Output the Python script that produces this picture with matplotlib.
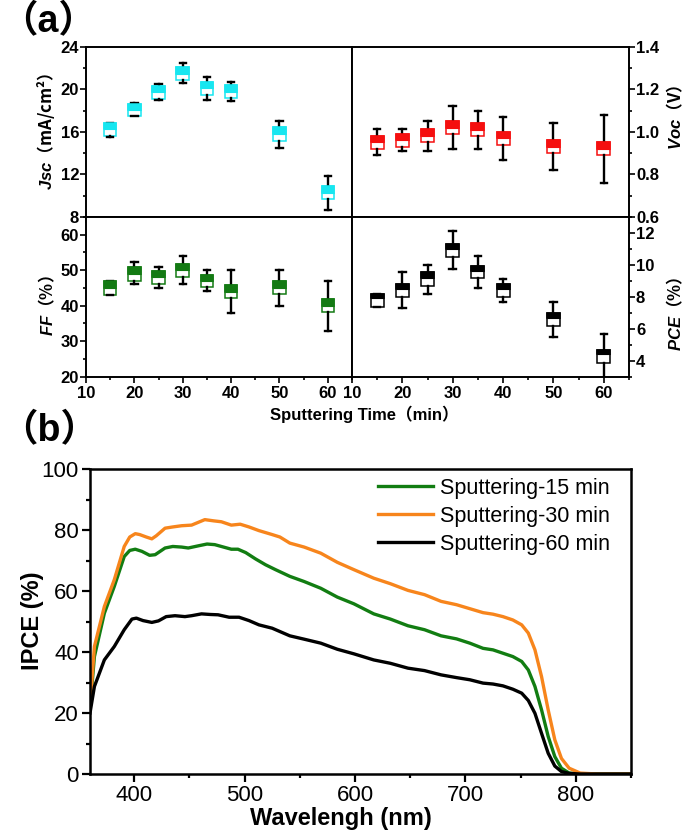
import matplotlib
matplotlib.use("Agg")
import matplotlib.pyplot as plt
from matplotlib.ticker import MultipleLocator
import numpy as np

plt.rcParams['font.family'] = ['Liberation Sans', 'Noto Sans CJK SC', 'DejaVu Sans']
plt.rcParams['mathtext.fontset'] = 'custom'
plt.rcParams['mathtext.it'] = 'Liberation Sans:italic:bold'
plt.rcParams['mathtext.rm'] = 'Liberation Sans:bold'
plt.rcParams['mathtext.bf'] = 'Liberation Sans:bold'

# ---------------- data (a) ----------------
times = [15, 20, 25, 30, 35, 40, 50, 60]

jsc_whislo = [15.55, 17.45, 19.0, 20.6, 19.0, 18.9, 14.5, 8.67]
jsc_q1 = [15.6, 17.5, 19.07, 20.83, 19.47, 19.17, 15.15, 9.66]
jsc_med = [16.25, 18.08, 19.75, 21.44, 20.1, 19.78, 15.83, 10.28]
jsc_q3 = [16.8, 18.65, 20.35, 22.06, 20.7, 20.4, 16.44, 10.89]
jsc_whishi = [16.85, 18.7, 20.45, 22.43, 21.2, 20.7, 17.06, 11.88]

voc_whislo = [0.89, 0.91, 0.91, 0.92, 0.92, 0.87, 0.82, 0.76]
voc_q1 = [0.92, 0.93, 0.95, 0.99, 0.98, 0.94, 0.90, 0.89]
voc_med = [0.953, 0.96, 0.98, 1.02, 1.01, 0.97, 0.93, 0.92]
voc_q3 = [0.98, 0.99, 1.013, 1.05, 1.04, 1.0, 0.96, 0.95]
voc_whishi = [1.013, 1.013, 1.05, 1.12, 1.10, 1.07, 1.04, 1.08]

ff_whislo = [43, 46, 45, 46, 44.1, 38, 40, 32.9]
ff_q1 = [43, 47.1, 46.2, 48.2, 45.2, 42.3, 43.2, 38.2]
ff_med = [45, 49, 48, 50, 47, 44, 45, 40]
ff_q3 = [47, 50.8, 49.9, 51.8, 48.7, 45.8, 46.9, 41.9]
ff_whishi = [47.1, 52.2, 51, 54, 50.1, 50, 50, 47.1]

pce_whislo = [7.36, 7.28, 8.2, 9.73, 8.55, 7.7, 5.47, 2.9]
pce_q1 = [7.36, 8.0, 8.7, 10.5, 9.16, 8.0, 6.2, 3.88]
pce_med = [7.9, 8.5, 9.2, 11.0, 9.6, 8.5, 6.7, 4.4]
pce_q3 = [8.2, 8.8, 9.54, 11.3, 9.93, 8.8, 6.98, 4.7]
pce_whishi = [8.2, 9.54, 10.0, 12.1, 10.55, 9.13, 7.7, 5.68]

# ---------------- data (b) ----------------
wl_15 = [360, 364, 373, 382, 391, 396, 401, 407, 414, 419,
         428, 435, 443, 449, 458, 466, 473, 482, 488, 494,
         501, 510, 519, 528, 541, 554, 569, 584, 599, 617,
         632, 648, 663, 678, 692, 704, 716, 725, 734, 743,
         751, 757, 763, 769, 775, 781, 787, 794, 804, 850]
ipce_15 = [21.5, 38.5, 52.7, 61.5, 71.3, 73.3, 73.7, 73.0, 71.7, 71.9,
           74.1, 74.6, 74.4, 74.1, 74.8, 75.4, 75.2, 74.3, 73.7, 73.7,
           72.6, 70.5, 68.6, 67.0, 64.8, 63.1, 60.9, 58.0, 55.8, 52.5,
           50.8, 48.6, 47.3, 45.3, 44.3, 42.9, 41.2, 40.7, 39.6, 38.5,
           36.9, 34.1, 28.7, 21.0, 12.3, 5.7, 1.9, 0.3, 0, 0]

wl_30 = [360, 364, 373, 382, 391, 396, 401, 405, 411, 416,
         420, 428, 435, 443, 452, 458, 464, 472, 479, 488,
         496, 504, 513, 525, 532, 541, 554, 569, 584, 599,
         617, 632, 648, 663, 678, 692, 704, 716, 725, 734,
         743, 751, 757, 763, 769, 775, 781, 787, 794, 804,
         819, 850]
ipce_30 = [22, 41.8, 54.9, 63.7, 74.6, 77.7, 78.8, 78.5, 77.7, 77.1,
           78.1, 80.6, 81.0, 81.4, 81.6, 82.5, 83.4, 83.0, 82.7, 81.6,
           81.9, 81.0, 79.8, 78.5, 77.7, 75.7, 74.4, 72.4, 69.4, 67.0,
           64.2, 62.4, 60.2, 58.8, 56.6, 55.5, 54.2, 52.9, 52.4, 51.6,
           50.5, 48.9, 46.2, 40.7, 31.9, 21.0, 11.2, 5.1, 1.9, 0.3,
           0, 0]

wl_60 = [360, 364, 373, 382, 391, 398, 402, 408, 416, 422,
         429, 437, 446, 452, 461, 469, 476, 486, 495, 504,
         513, 525, 541, 554, 569, 584, 599, 617, 632, 648,
         663, 678, 692, 704, 716, 725, 734, 743, 751, 757,
         763, 769, 775, 781, 787, 794, 804, 850]
ipce_60 = [20, 28.7, 37.4, 41.8, 47.3, 50.8, 51.1, 50.3, 49.7, 50.2,
           51.6, 51.9, 51.6, 51.9, 52.5, 52.3, 52.2, 51.4, 51.4, 50.3,
           48.9, 47.8, 45.3, 44.2, 42.9, 40.9, 39.4, 37.4, 36.3, 34.7,
           33.9, 32.5, 31.6, 30.9, 29.8, 29.5, 28.9, 27.8, 26.5, 24.1,
           19.9, 13.3, 6.8, 2.6, 0.8, 0.2, 0, 0]

legend_labels = ['Sputtering-15 min', 'Sputtering-30 min', 'Sputtering-60 min']

# ---------------- figure ----------------
W, H = 685, 840
fig = plt.figure(figsize=(W / 100, H / 100), dpi=100)


def rect(x0, y0, x1, y1):
    return [x0 / W, 1 - y1 / H, (x1 - x0) / W, (y1 - y0) / H]


def fx(x):
    return x / W


def fy(y):
    return 1 - y / H


ax_jsc = fig.add_axes(rect(86, 46.7, 352, 217))
ax_voc = fig.add_axes(rect(352, 46.7, 629, 217))
ax_ff = fig.add_axes(rect(86, 217, 352, 376.7))
ax_pce = fig.add_axes(rect(352, 217, 629, 376.7))
ax_b = fig.add_axes(rect(90, 469, 631, 774))

tick_font = dict(family=['Liberation Sans', 'DejaVu Sans'], weight='bold', size=12)


def draw_box(ax, lo, q1, med, q3, hi, color):
    stats = []
    for a, b, c, d, e in zip(lo, q1, med, q3, hi):
        stats.append(dict(whislo=a, q1=b, med=c, q3=d, whishi=e, fliers=[]))
    ax.bxp(stats, positions=times, widths=2.6, capwidths=1.3, showfliers=False,
           patch_artist=True, manage_ticks=False,
           boxprops=dict(facecolor='white', edgecolor=color, linewidth=1.1),
           whiskerprops=dict(color='black', linewidth=1.7),
           capprops=dict(color='black', linewidth=1.7),
           medianprops=dict(color=color, linewidth=0.8))
    heights = [d - c for c, d in zip(med, q3)]
    ax.bar(times, heights, bottom=med, width=2.6, color=color,
           edgecolor=color, linewidth=1.1, zorder=3)


draw_box(ax_jsc, jsc_whislo, jsc_q1, jsc_med, jsc_q3, jsc_whishi, '#17e6f0')
draw_box(ax_voc, voc_whislo, voc_q1, voc_med, voc_q3, voc_whishi, '#f50f0f')
draw_box(ax_ff, ff_whislo, ff_q1, ff_med, ff_q3, ff_whishi, '#137a13')
draw_box(ax_pce, pce_whislo, pce_q1, pce_med, pce_q3, pce_whishi, '#000000')

for ax in (ax_jsc, ax_voc, ax_ff, ax_pce):
    ax.set_xlim(10, 65)
    ax.xaxis.set_major_locator(MultipleLocator(10))
    ax.xaxis.set_minor_locator(MultipleLocator(5))
    for s in ax.spines.values():
        s.set_linewidth(1.4)
    ax.tick_params(which='both', direction='out', width=1.2, top=False)
    ax.tick_params(which='major', length=4, pad=1)
    ax.tick_params(which='minor', length=2.5)

ax_jsc.set_ylim(8, 24)
ax_jsc.yaxis.set_major_locator(MultipleLocator(4))
ax_jsc.yaxis.set_minor_locator(MultipleLocator(2))
ax_voc.set_ylim(0.6, 1.4)
ax_voc.yaxis.set_major_locator(MultipleLocator(0.2))
ax_voc.yaxis.set_minor_locator(MultipleLocator(0.1))
ax_ff.set_ylim(20, 65)
ax_ff.yaxis.set_major_locator(MultipleLocator(10))
ax_ff.yaxis.set_minor_locator(MultipleLocator(5))
ax_pce.set_ylim(3, 13)
ax_pce.yaxis.set_major_locator(MultipleLocator(2))
ax_pce.yaxis.set_minor_locator(MultipleLocator(1))

for ax in (ax_jsc, ax_voc):
    ax.tick_params(axis='x', which='both', labelbottom=False)
for ax in (ax_voc, ax_pce):
    ax.yaxis.tick_right()
    ax.tick_params(axis='y', which='both', left=False, right=True, labelleft=False, labelright=True)
for ax in (ax_jsc, ax_ff):
    ax.tick_params(axis='y', which='both', right=False)

ax_voc.yaxis.set_major_formatter(matplotlib.ticker.FormatStrFormatter('%.1f'))

for ax in (ax_jsc, ax_voc, ax_ff, ax_pce):
    for lab in ax.get_xticklabels() + ax.get_yticklabels():
        lab.set_fontproperties(matplotlib.font_manager.FontProperties(**tick_font))
    ax.tick_params(axis='x', pad=3)

# axis titles of (a): italic symbol via mathtext, rest in the CJK font
lab_fam = ['Liberation Sans', 'Noto Sans CJK SC']


def ylab(xc, yc, text):
    fig.text(fx(xc), fy(yc), text, rotation=90, ha='center', va='center',
             family='Noto Sans CJK SC', weight='bold', fontsize=12)


ylab(46, 131, r'$Jsc$（mA/cm²）')
ylab(675, 117, r'$Voc$（V）')
ylab(47, 306, r'$FF$（%）')
ylab(675, 314, r'$PCE$（%）')

fig.text(fx(364), fy(414), 'Sputtering Time（min）', ha='center', va='center',
         family=lab_fam, weight='bold', fontsize=12)

fig.text(fx(0), fy(22), '（a）', ha='left', va='center', family=lab_fam,
         weight='bold', fontsize=27)
fig.text(fx(0), fy(431), '（b）', ha='left', va='center', family=lab_fam,
         weight='bold', fontsize=27)

# ---------------- (b) ----------------
ax_b.plot(wl_15, ipce_15, color='#127d12', lw=2.4, label=legend_labels[0])
ax_b.plot(wl_30, ipce_30, color='#f7851c', lw=2.4, label=legend_labels[1])
ax_b.plot(wl_60, ipce_60, color='#000000', lw=2.4, label=legend_labels[2])
ax_b.set_xlim(360, 850)
ax_b.set_ylim(0, 100)
ax_b.xaxis.set_major_locator(MultipleLocator(100))
ax_b.xaxis.set_minor_locator(MultipleLocator(50))
ax_b.yaxis.set_major_locator(MultipleLocator(20))
ax_b.yaxis.set_minor_locator(MultipleLocator(10))
for s in ax_b.spines.values():
    s.set_linewidth(1.8)
ax_b.tick_params(which='both', direction='out', width=1.6, labelsize=16)
ax_b.tick_params(which='major', length=6, pad=2)
ax_b.tick_params(which='minor', length=3)
for lab in ax_b.get_xticklabels() + ax_b.get_yticklabels():
    lab.set_family('Liberation Sans')

fig.text(fx(33), fy(621), 'IPCE (%)', rotation=90, ha='center', va='center',
         family='Liberation Sans', weight='bold', fontsize=17)
fig.text(fx(341), fy(819), 'Wavelengh (nm)', ha='center', va='center',
         family='Liberation Sans', weight='bold', fontsize=17)

ax_b.legend(loc='upper left', bbox_to_anchor=(fx(378), fy(478)),
            bbox_transform=fig.transFigure, frameon=False, borderpad=0,
            borderaxespad=0, handlelength=2.55, handletextpad=0.35,
            labelspacing=0.32, prop=dict(family='Liberation Sans', size=15.5))

fig.savefig('out.png', dpi=100)
